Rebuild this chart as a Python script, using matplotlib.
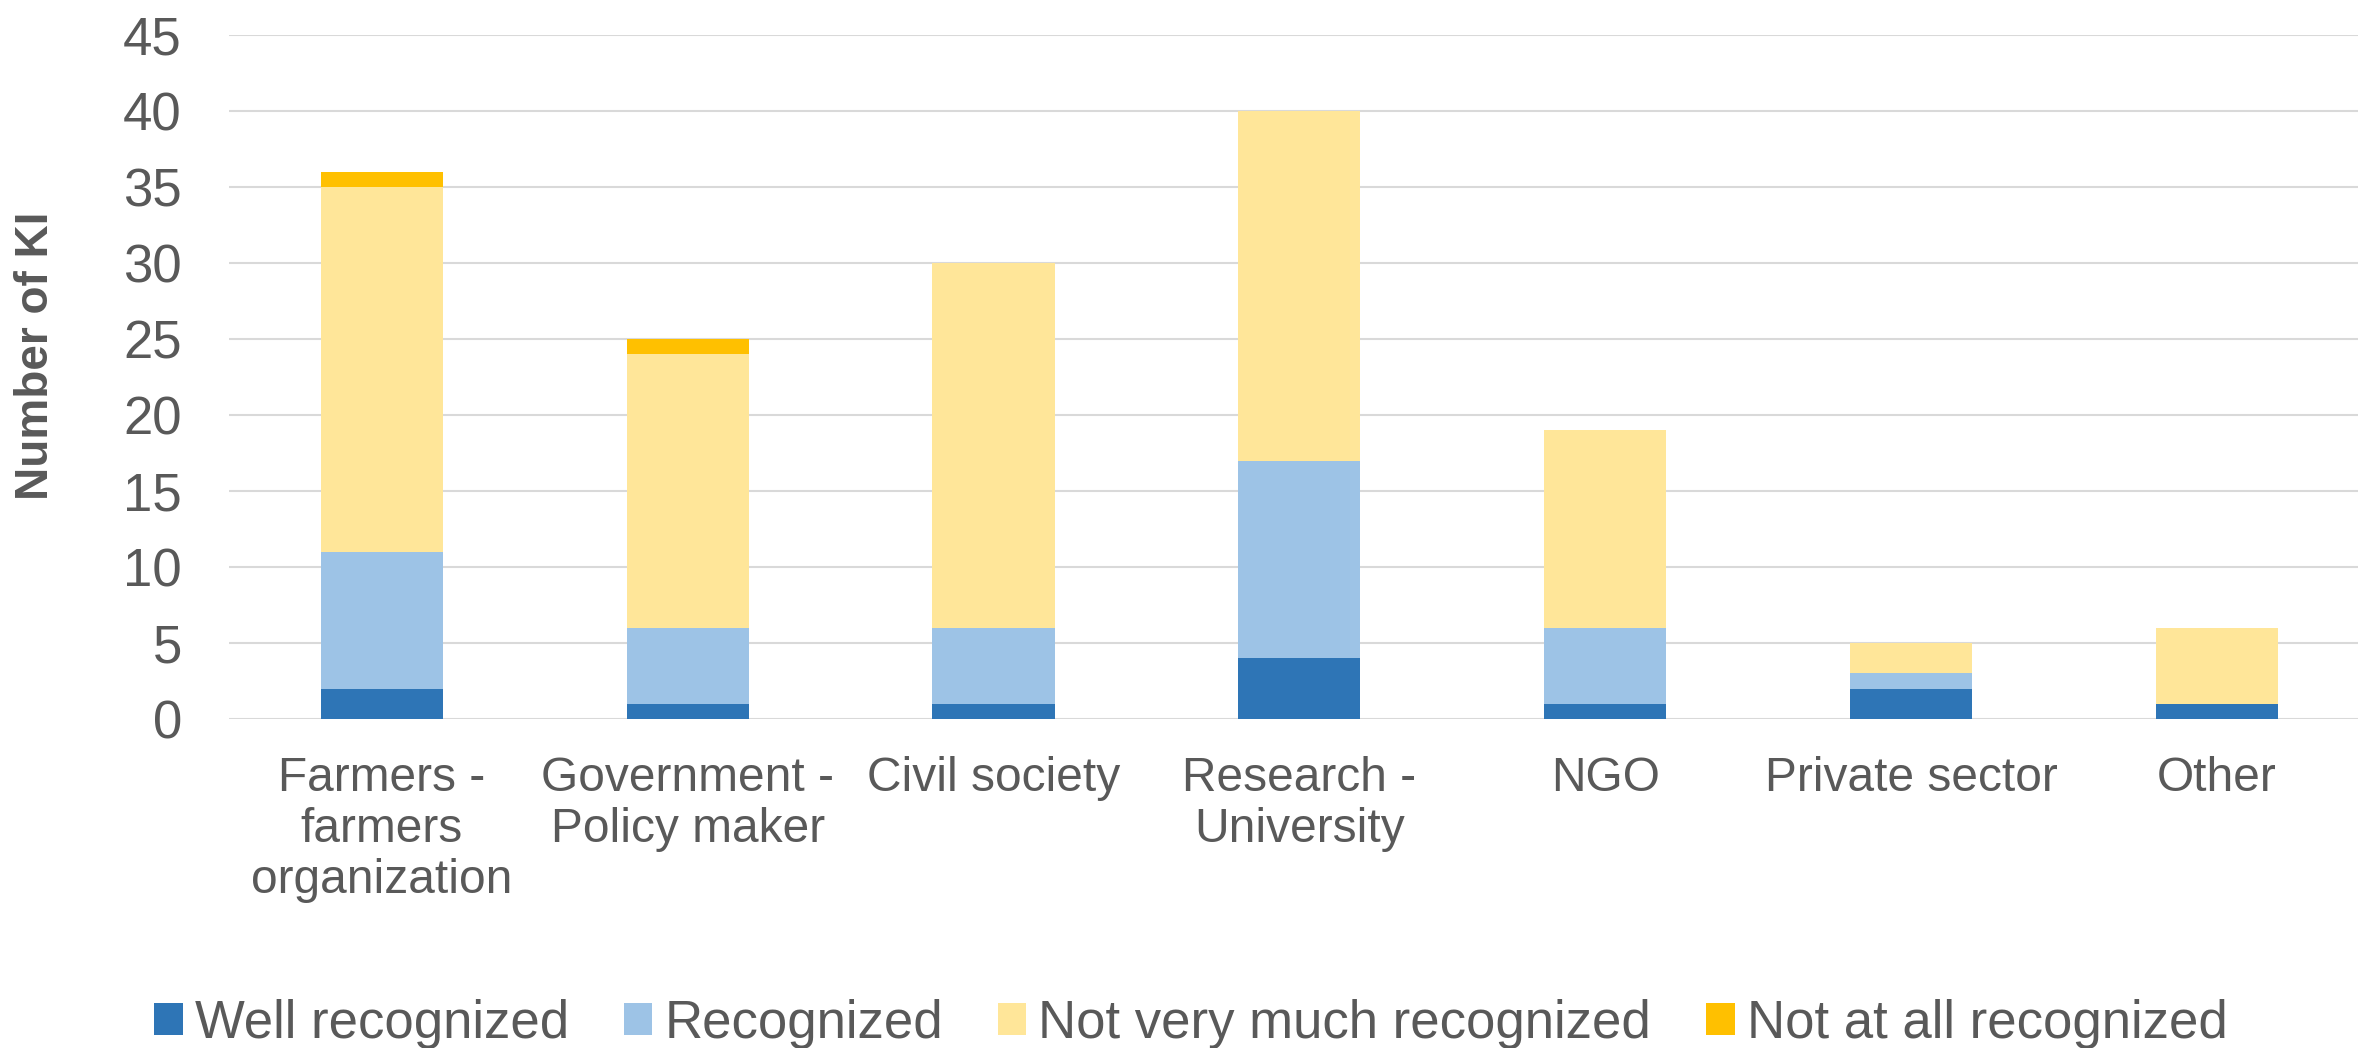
import matplotlib
matplotlib.use("Agg")
import matplotlib.pyplot as plt
import numpy as np

categories = ["Farmers -\nfarmers\norganization", "Government -\nPolicy maker", "Civil society",
              "Research -\nUniversity", "NGO", "Private sector", "Other"]
well_recognized = [2, 1, 1, 4, 1, 2, 1]
recognized = [9, 5, 5, 13, 5, 1, 0]
not_very_much = [24, 18, 24, 23, 13, 2, 5]
not_at_all = [1, 1, 0, 0, 0, 0, 0]
series_names = ["Well recognized", "Recognized", "Not very much recognized", "Not at all recognized"]
series_colors = ["#2E75B6", "#9DC3E6", "#FFE699", "#FFC000"]
y_ticks = [0, 5, 10, 15, 20, 25, 30, 35, 40, 45]

plt.rcParams['font.family'] = ['Liberation Sans', 'DejaVu Sans']
TXT = "#595959"

fig = plt.figure(figsize=(23.58, 10.48), dpi=100)
ax = fig.add_axes([229/2358, (1048-719)/1048, 1 - 229/2358, (719-35)/1048])

x = np.arange(len(categories))
bottom = np.zeros(len(categories))
for vals, name, col in zip([well_recognized, recognized, not_very_much, not_at_all], series_names, series_colors):
    ax.bar(x, vals, width=0.40, bottom=bottom, color=col, label=name, zorder=3, linewidth=0)
    bottom += np.array(vals)

ax.set_ylim(0, 45)
ax.set_xlim(-0.5, -0.5 + (2358 - 229) / 305.8)
ax.set_yticks(y_ticks)
ax.yaxis.grid(True, color="#D9D9D9", linewidth=1.5, zorder=0)
ax.set_axisbelow(True)
for s in ax.spines.values():
    s.set_visible(False)
ax.tick_params(axis='y', length=0, pad=34, labelsize=38, labelcolor=TXT)
ax.tick_params(axis='x', length=0, pad=26.5, labelsize=34.5, labelcolor=TXT)
ax.set_xticks(x)
ax.set_xticklabels(categories, linespacing=1.17)

fig.text(36/2358, (1048-356)/1048, "Number of KI", rotation=90, ha='center', va='center',
         fontsize=33, fontweight='bold', color=TXT)

leg = fig.legend(loc='center', bbox_to_anchor=(0.505, 0.023), ncol=4, frameon=False,
                 fontsize=38, handlelength=0.54, handleheight=0.54, handletextpad=0.23,
                 columnspacing=1.04, borderaxespad=0, borderpad=0)
for t in leg.get_texts():
    t.set_color(TXT)

fig.savefig("out.png", dpi=100)
